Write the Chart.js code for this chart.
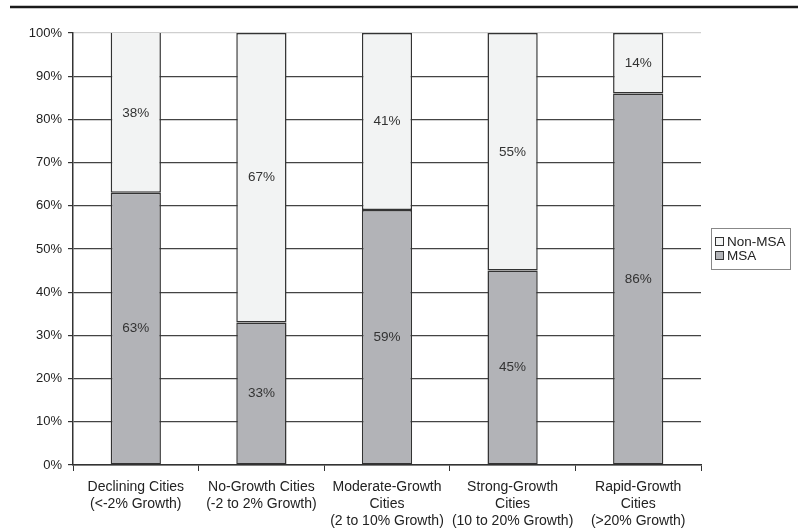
<!DOCTYPE html>
<html>
<head>
<meta charset="utf-8">
<script src="https://cdn.jsdelivr.net/npm/chart.js@4"></script>
<style>
  html, body { margin: 0; padding: 0; background: #fff; }
  #wrap { width: 798px; height: 529px; position: relative; }
</style>
</head>
<body>
<div id="wrap"><canvas id="grafico-msa" width="798" height="529"></canvas></div>
<script>
const categorias = [
    ["Declining Cities", "(<-2% Growth)"],
    ["No-Growth Cities", "(-2 to 2% Growth)"],
    ["Moderate-Growth", "Cities", "(2 to 10% Growth)"],
    ["Strong-Growth", "Cities", "(10 to 20% Growth)"],
    ["Rapid-Growth", "Cities", "(>20% Growth)"]
]
const msa = [63, 33, 59, 45, 86]
const naoMsa = [38, 67, 41, 55, 14]
const ticksY = [0, 10, 20, 30, 40, 50, 60, 70, 80, 90, 100]

const fonte = "'Liberation Sans', Arial, sans-serif"

// rotulos de porcentagem no meio de cada segmento
const rotulosPlugin = {
    id: 'rotulos',
    afterDatasetsDraw(chart) {
        const ctx = chart.ctx
        ctx.save()
        ctx.font = `13.5px ${fonte}`
        ctx.fillStyle = '#333'
        ctx.textAlign = 'center'
        ctx.textBaseline = 'middle'
        chart.data.datasets.forEach((ds, i) => {
            chart.getDatasetMeta(i).data.forEach((bar, j) => {
                const topo = Math.max(bar.y, chart.chartArea.top)
                ctx.fillText(ds.data[j] + '%', bar.x, (topo + bar.base) / 2)
            })
        })
        ctx.restore()
    }
}

// linha preta no topo e legenda com borda
const molduraPlugin = {
    id: 'moldura',
    afterDraw(chart) {
        const ctx = chart.ctx
        ctx.save()
        ctx.strokeStyle = '#1a1a1a'
        ctx.lineWidth = 2.5
        ctx.beginPath()
        ctx.moveTo(10, 7)
        ctx.lineTo(798, 7)
        ctx.stroke()

        ctx.strokeStyle = '#888'
        ctx.lineWidth = 1
        ctx.strokeRect(711.5, 228.5, 79, 41)

        ctx.font = `13.5px ${fonte}`
        ctx.textBaseline = 'middle'
        ctx.textAlign = 'left'
        const itens = [chart.data.datasets[1], chart.data.datasets[0]]
        itens.forEach((ds, k) => {
            const y = 242 + k * 14
            ctx.fillStyle = ds.backgroundColor
            ctx.fillRect(715.5, y - 4.5, 8, 8)
            ctx.strokeStyle = '#333'
            ctx.strokeRect(715.5, y - 4.5, 8, 8)
            ctx.fillStyle = '#222'
            ctx.fillText(ds.label, 727, y + 0.5)
        })
        ctx.restore()
    }
}

let myChartMsa = new Chart(
    document.getElementById("grafico-msa"),
    {
        type: "bar",
        data: {
            labels: categorias,
            datasets: [
                {
                    label: "MSA",
                    data: msa,
                    backgroundColor: "#b2b3b7",
                    borderColor: "#333",
                    borderWidth: 1.5,
                    borderSkipped: false,
                    barPercentage: 0.4,
                    categoryPercentage: 1
                },
                {
                    label: "Non-MSA",
                    data: naoMsa,
                    backgroundColor: "#f2f3f3",
                    borderColor: "#333",
                    borderWidth: 1.5,
                    borderSkipped: false,
                    barPercentage: 0.4,
                    categoryPercentage: 1
                }
            ]
        },
        options: {
            responsive: false,
            animation: false,
            layout: {
                padding: { left: 0, right: 97, top: 33, bottom: 0 }
            },
            plugins: {
                legend: { display: false },
                tooltip: { enabled: false }
            },
            scales: {
                x: {
                    stacked: true,
                    grid: {
                        offset: true,
                        drawOnChartArea: false,
                        drawTicks: true,
                        tickLength: 6,
                        tickColor: '#333'
                    },
                    border: { color: '#333', width: 1.5 },
                    ticks: {
                        color: '#222',
                        font: { family: fonte, size: 14 },
                        maxRotation: 0,
                        autoSkip: false,
                        padding: 8
                    },
                    afterFit: scale => { scale.height = 64 }
                },
                y: {
                    stacked: true,
                    min: 0,
                    max: 100,
                    afterBuildTicks: scale => {
                        scale.ticks = ticksY.map(v => ({ value: v }))
                    },
                    grid: {
                        color: ctx => ctx.tick && ctx.tick.value === 100 ? '#cfcfcf' : '#444',
                        lineWidth: 1.2,
                        tickLength: 5,
                        tickColor: '#333'
                    },
                    border: { color: '#333', width: 1.5 },
                    ticks: {
                        color: '#222',
                        font: { family: fonte, size: 13 },
                        padding: 6,
                        autoSkip: false,
                        callback: v => v + '%'
                    },
                    afterFit: scale => { scale.width = 73 }
                }
            }
        },
        plugins: [rotulosPlugin, molduraPlugin]
    }
)
</script>
</body>
</html>
